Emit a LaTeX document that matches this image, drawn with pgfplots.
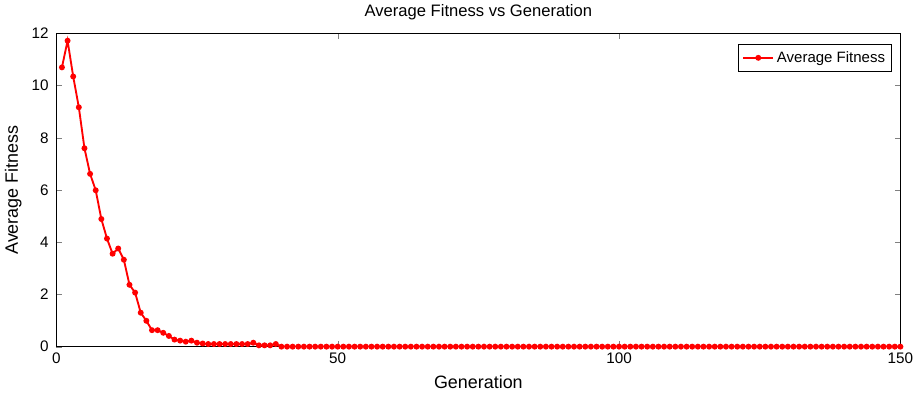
\documentclass[border=0pt]{standalone}
\usepackage{pgfplots}
\pgfplotsset{compat=1.18}
\usepackage{fontspec}
\setmainfont{Liberation Sans}
\begin{document}
\fontsize{11}{13}\selectfont
\begin{tikzpicture}
\begin{axis}[
  scale only axis,
  width=636pt, height=236pt,
  xmin=0, xmax=150, ymin=0, ymax=12,
  xtick={0,50,100,150}, ytick={0,2,4,6,8,10,12},
  tick align=inside,
  major tick length=4pt,
  /pgf/number format/assume math mode=true,
  tick label style={font=\fontsize{11.5}{13}\selectfont},
  yticklabel style={xshift=-2pt},
  xticklabel style={yshift=-1pt},
  label style={font=\fontsize{13.5}{15}\selectfont},
  title style={font=\fontsize{12.5}{14}\selectfont, yshift=0pt},
  title={Average Fitness vs Generation},
  xlabel={Generation}, ylabel={Average Fitness},
  xlabel style={yshift=-1pt},
  ylabel style={yshift=0pt},
  legend style={font=\fontsize{11.3}{13}\selectfont, draw=black, inner sep=3pt, at={(0.99,0.965)}, anchor=north east},
  legend cell align=left,
  legend image code/.code={
    \draw[#1] (0cm,0cm) -- (0.8cm,0cm);
    \draw[#1, mark repeat=1] plot coordinates {(0.4cm,0cm)};
  },
  axis line style={line width=0.6pt},
]
\addplot[red, line width=1.4pt, mark=*, mark size=1.5pt, mark options={solid}] coordinates {
(1,10.7)(2,11.72)(3,10.35)(4,9.17)(5,7.6)(6,6.62)(7,5.99)(8,4.89)(9,4.14)(10,3.56)
(11,3.76)(12,3.33)(13,2.37)(14,2.07)(15,1.30)(16,0.99)(17,0.63)(18,0.63)(19,0.53)(20,0.41)
(21,0.27)(22,0.23)(23,0.19)(24,0.23)(25,0.15)(26,0.12)(27,0.10)(28,0.10)(29,0.10)(30,0.10)
(31,0.10)(32,0.10)(33,0.10)(34,0.10)(35,0.15)(36,0.05)(37,0.05)(38,0.05)(39,0.10)(40,0.0)
(41,0)(42,0)(43,0)(44,0)(45,0)(46,0)(47,0)(48,0)(49,0)(50,0)
(51,0)(52,0)(53,0)(54,0)(55,0)(56,0)(57,0)(58,0)(59,0)(60,0)
(61,0)(62,0)(63,0)(64,0)(65,0)(66,0)(67,0)(68,0)(69,0)(70,0)
(71,0)(72,0)(73,0)(74,0)(75,0)(76,0)(77,0)(78,0)(79,0)(80,0)
(81,0)(82,0)(83,0)(84,0)(85,0)(86,0)(87,0)(88,0)(89,0)(90,0)
(91,0)(92,0)(93,0)(94,0)(95,0)(96,0)(97,0)(98,0)(99,0)(100,0)
(101,0)(102,0)(103,0)(104,0)(105,0)(106,0)(107,0)(108,0)(109,0)(110,0)
(111,0)(112,0)(113,0)(114,0)(115,0)(116,0)(117,0)(118,0)(119,0)(120,0)
(121,0)(122,0)(123,0)(124,0)(125,0)(126,0)(127,0)(128,0)(129,0)(130,0)
(131,0)(132,0)(133,0)(134,0)(135,0)(136,0)(137,0)(138,0)(139,0)(140,0)
(141,0)(142,0)(143,0)(144,0)(145,0)(146,0)(147,0)(148,0)(149,0)(150,0)
};
\addlegendentry{Average Fitness}
\end{axis}
\end{tikzpicture}
\end{document}
